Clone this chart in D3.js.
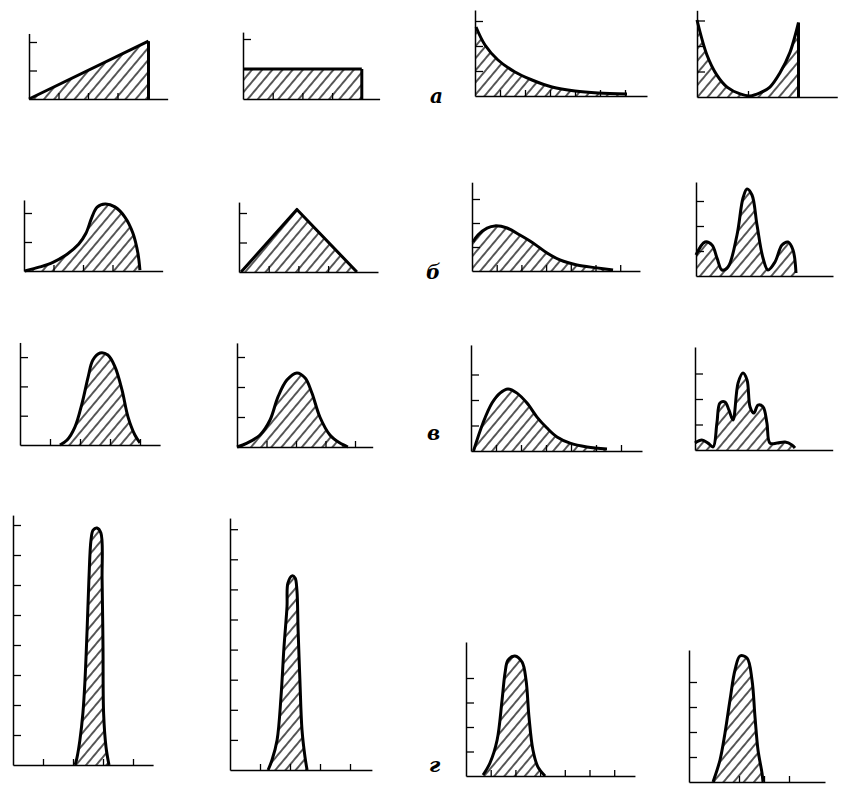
<!DOCTYPE html>
<html>
<head>
<meta charset="utf-8">
<script src="https://cdn.jsdelivr.net/npm/d3@7"></script>
<style>
  body { margin: 0; background: #fff; }
</style>
</head>
<body>
<div id="chart"></div>
<script>
// Curve values, [x, y] in tick units of each small plot
var curveA1 = [[0, 0], [4.05, 2.03]];
var curveA2 = [[0, 1], [4.0, 1]];
var curveA3 = [[0.04, 2.76], [0.4, 2.04], [0.92, 1.44], [1.6, 0.96], [2.28, 0.64], [3.08, 0.36], [4.0, 0.2], [4.92, 0.12], [6.08, 0.08]];
var curveA4 = [[0, 3.02], [0.39, 1.65], [0.78, 0.86], [1.18, 0.39], [1.69, 0.12], [2.08, 0.04], [2.47, 0.16], [2.86, 0.39], [3.25, 0.94], [3.65, 1.76], [3.98, 2.92]];

var curveB1 = [[0.03, 0], [0.54, 0.14], [0.98, 0.3], [1.46, 0.58], [1.85, 0.92], [2.1, 1.3], [2.3, 1.85], [2.48, 2.2], [2.75, 2.31], [3.08, 2.21], [3.42, 1.86], [3.69, 1.31], [3.86, 0.62], [3.93, 0.03]];
var curveB2 = [[0.07, 0], [1.95, 2.12], [3.97, 0]];
var curveB3 = [[0.04, 1.21], [0.24, 1.5], [0.61, 1.79], [0.93, 1.88], [1.42, 1.79], [1.94, 1.5], [2.47, 1.17], [3.04, 0.75], [3.56, 0.46], [4.25, 0.25], [5.06, 0.13], [5.71, 0.04]];
var curveB4 = [[0, 0.84], [0.36, 1.36], [0.64, 1.24], [0.84, 0.72], [1.04, 0.24], [1.28, 0.36], [1.64, 1.64], [1.88, 3.12], [2.04, 3.48], [2.24, 3.24], [2.44, 2.04], [2.68, 0.72], [2.88, 0.24], [3.16, 0.56], [3.44, 1.24], [3.68, 1.36], [3.88, 1.04], [4.0, 0.12]];

var curveC1 = [[1.33, 0], [1.57, 0.17], [1.83, 0.61], [2.07, 1.43], [2.27, 2.32], [2.43, 2.9], [2.67, 3.14], [2.93, 3.07], [3.17, 2.66], [3.4, 1.88], [3.6, 0.96], [3.83, 0.34], [4.0, 0.07]];
var curveC2 = [[0, 0], [0.34, 0.13], [0.78, 0.4], [1.12, 0.9], [1.39, 1.67], [1.69, 2.23], [2.03, 2.47], [2.31, 2.3], [2.54, 1.8], [2.81, 1.0], [3.15, 0.4], [3.49, 0.13], [3.76, 0]];
var curveC3 = [[0.1, 0], [0.48, 1.1], [0.84, 1.88], [1.16, 2.27], [1.48, 2.43], [1.84, 2.27], [2.24, 1.88], [2.64, 1.33], [3.04, 0.9], [3.44, 0.55], [3.96, 0.31], [4.64, 0.16], [5.44, 0.08]];
var curveC4 = [[0, 0.27], [0.27, 0.39], [0.51, 0.27], [0.71, 0.12], [0.86, 1.06], [0.98, 1.84], [1.18, 1.88], [1.33, 1.57], [1.49, 1.18], [1.69, 2.63], [1.88, 3.02], [2.04, 2.75], [2.16, 1.69], [2.31, 1.45], [2.47, 1.76], [2.67, 1.69], [2.82, 1.06], [2.94, 0.27], [3.22, 0.27], [3.53, 0.31], [3.8, 0.2], [3.92, 0.08]];

var curveD1 = [[2.07, 0], [2.13, 0.23], [2.23, 0.83], [2.33, 1.73], [2.4, 2.83], [2.47, 4.5], [2.53, 6.17], [2.6, 7.5], [2.67, 7.83], [2.8, 7.9], [2.93, 7.73], [2.97, 6.17], [3.0, 3.93], [3.02, 1.73], [3.1, 0.6], [3.2, 0]];
var curveD2 = [[1.27, 0], [1.4, 0.33], [1.57, 1.0], [1.7, 2.43], [1.8, 4.09], [1.9, 5.42], [1.93, 6.21], [2.07, 6.45], [2.17, 6.38], [2.23, 5.98], [2.27, 4.65], [2.33, 2.99], [2.4, 1.33], [2.5, 0.43], [2.57, 0]];
var curveD3 = [[0.69, 0.04], [0.97, 0.53], [1.26, 1.47], [1.46, 3.1], [1.58, 4.2], [1.7, 4.73], [1.98, 4.9], [2.27, 4.65], [2.43, 3.92], [2.55, 2.41], [2.71, 1.06], [2.91, 0.37], [3.2, 0]];
var curveD4 = [[0.96, 0], [1.24, 0.88], [1.44, 1.96], [1.64, 3.28], [1.84, 4.48], [2.04, 5.04], [2.32, 4.96], [2.52, 4.08], [2.64, 2.6], [2.76, 1.28], [2.92, 0.36], [2.96, 0]];

// Axis extents [x, y] and tick values of each plot
var extents = [[4.7, 2.3], [4.6, 2.23], [6.88, 3.44], [5.5, 3.4],
               [4.7, 2.45], [4.68, 2.37], [6.8, 3.7], [5.48, 3.76],
               [4.67, 3.5], [4.6, 3.47], [6.84, 4.16], [5.4, 4.04],
               [4.67, 8.33], [4.73, 8.37], [6.84, 5.47], [5.44, 5.28]];
var xTickValues = [[1, 2, 3], [1, 2, 3], [1, 2, 3, 4, 5, 6], [2],
                   [1, 2, 3], [1, 2, 3], [1, 2, 3, 4, 5, 6], [],
                   [1, 2, 3, 4], [1, 2, 3, 4], [1, 2, 3, 4, 5, 6], [],
                   [1, 2, 3, 4], [1, 2, 3, 4], [1, 2, 3, 4, 5, 6], [1, 2, 3, 4]];
var yTickValues = [[1, 2], [1, 2], [1, 2, 3], [1, 2, 3],
                   [1, 2], [1, 2], [1, 2, 3], [1, 2, 3],
                   [1, 2, 3], [1, 2, 3], [1, 2, 3], [1, 2, 3],
                   [1, 2, 3, 4, 5, 6, 7, 8], [1, 2, 3, 4, 5, 6, 7, 8], [1, 2, 3, 4], [1, 2, 3, 4]];

// Row letters
var rowLabels = ["а", "б", "в", "г"];

var curves = [curveA1, curveA2, curveA3, curveA4, curveB1, curveB2, curveB3, curveB4,
              curveC1, curveC2, curveC3, curveC4, curveD1, curveD2, curveD3, curveD4];
// straight segments for the triangles and the rectangle
var straight = [true, true, false, false, false, true, false, false,
                false, false, false, false, false, false, false, false];

// Placement of each plot: origin (ox, oy) and pixels per unit (ux, uy)
var layout = [
    { ox: 29, oy: 99, ux: 29.5, uy: 28.5 },
    { ox: 243, oy: 99, ux: 29.7, uy: 30 },
    { ox: 475, oy: 96, ux: 25, uy: 25 },
    { ox: 697, oy: 97, ux: 25.5, uy: 25.5 },
    { ox: 24, oy: 271, ux: 29.5, uy: 29 },
    { ox: 239, oy: 272, ux: 29.7, uy: 29.5 },
    { ox: 472, oy: 271, ux: 24.7, uy: 24 },
    { ox: 696, oy: 276, ux: 25, uy: 25 },
    { ox: 20, oy: 445, ux: 30, uy: 29.3 },
    { ox: 237, oy: 447, ux: 29.5, uy: 30 },
    { ox: 471, oy: 451, ux: 25, uy: 25.5 },
    { ox: 695, oy: 450, ux: 25.5, uy: 25.5 },
    { ox: 13, oy: 765, ux: 30, uy: 30 },
    { ox: 230, oy: 770, ux: 30, uy: 30.1 },
    { ox: 466, oy: 776, ux: 24.7, uy: 24.5 },
    { ox: 689, oy: 782, ux: 25, uy: 25 }
];
var labelPos = [[430, 103], [426, 279], [427, 440], [429, 772]];

var svgWidth = 841;
var svgHeight = 787;

var svg = d3.select("#chart")
    .append("svg")
    .attr("width", svgWidth)
    .attr("height", svgHeight);

svg.append("rect").attr("width", svgWidth).attr("height", svgHeight).attr("fill", "white");

// Diagonal hatching
svg.append("defs").append("pattern")
    .attr("id", "hatch")
    .attr("patternUnits", "userSpaceOnUse")
    .attr("width", 7.8)
    .attr("height", 7.8)
    .attr("patternTransform", "rotate(40)")
    .append("line")
    .attr("x1", 3.9).attr("y1", 0)
    .attr("x2", 3.9).attr("y2", 7.8)
    .attr("stroke", "#000")
    .attr("stroke-width", 1.3);

curves.forEach((data, i) => {
    var L = layout[i];
    var xMax = extents[i][0], yMax = extents[i][1];

    var x = d3.scaleLinear().domain([0, xMax]).range([L.ox, L.ox + xMax * L.ux]);
    var y = d3.scaleLinear().domain([0, yMax]).range([L.oy, L.oy - yMax * L.uy]);
    var curve = straight[i] ? d3.curveLinear : d3.curveCatmullRom.alpha(0.5);

    var g = svg.append("g");

    // hatched area under the curve
    g.append("path")
        .datum(data)
        .attr("fill", "url(#hatch)")
        .attr("d", d3.area()
            .x(d => x(d[0]))
            .y0(y(0))
            .y1(d => Math.min(y(0), y(d[1])))
            .curve(curve));

    // axes with bare ticks
    var xAxis = g.append("g")
        .attr("transform", `translate(0, ${L.oy})`)
        .call(d3.axisTop(x).tickValues(xTickValues[i]).tickSize(6).tickSizeOuter(0).tickFormat(""));
    var yAxis = g.append("g")
        .attr("transform", `translate(${L.ox}, 0)`)
        .call(d3.axisRight(y).tickValues(yTickValues[i]).tickSize(8).tickSizeOuter(0).tickFormat(""));
    [xAxis, yAxis].forEach(a => {
        a.select(".domain").attr("stroke-width", 1.5);
        a.selectAll(".tick line").attr("stroke-width", 1.3);
    });

    // outline
    g.append("path")
        .datum(data)
        .attr("fill", "none")
        .attr("stroke", "#000")
        .attr("stroke-width", 3)
        .attr("stroke-linejoin", "round")
        .attr("d", d3.line().x(d => x(d[0])).y(d => y(d[1])).curve(curve));

    // right edge dropping to the axis
    var last = data[data.length - 1];
    if (last[1] > 0.3) {
        g.append("line")
            .attr("x1", x(last[0])).attr("y1", y(last[1]))
            .attr("x2", x(last[0])).attr("y2", y(0))
            .attr("stroke", "#000")
            .attr("stroke-width", 3);
    }
});

// Row letters
rowLabels.forEach((t, i) => {
    svg.append("text")
        .attr("x", labelPos[i][0])
        .attr("y", labelPos[i][1])
        .style("font-family", "'DejaVu Serif', serif")
        .style("font-style", "italic")
        .style("font-weight", "bold")
        .style("font-size", "20px")
        .text(t);
});
</script>
</body>
</html>
